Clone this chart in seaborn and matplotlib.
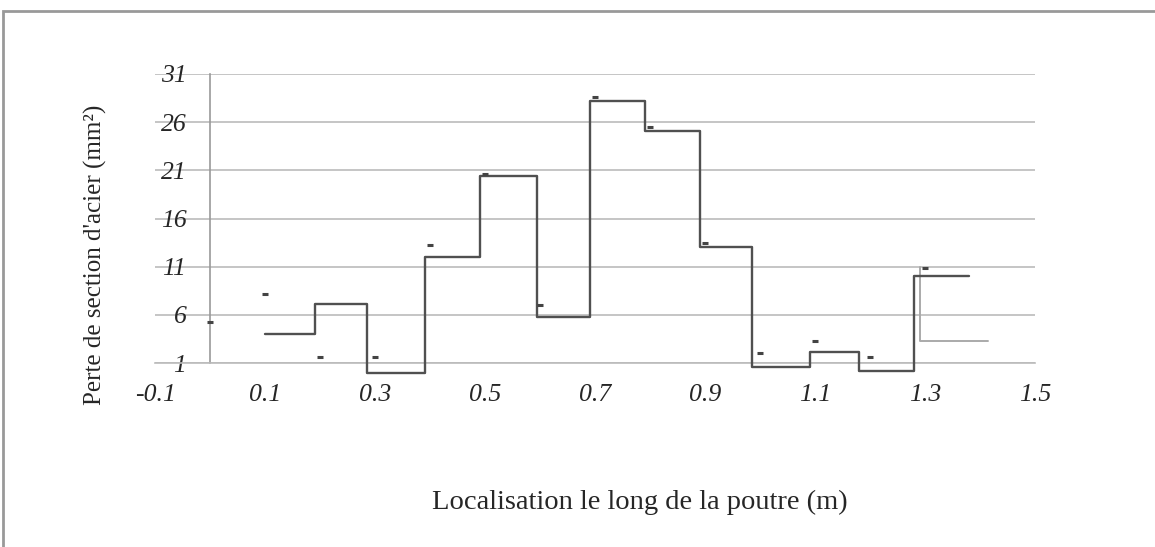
import matplotlib
matplotlib.use('Agg')
import matplotlib.pyplot as plt
import seaborn as sns
import pandas as pd

# step profile (left edges of each section, value held until next edge)
step_x = [0.10, 0.19, 0.285, 0.39, 0.49, 0.595, 0.69, 0.79, 0.89, 0.985, 1.09, 1.18, 1.28, 1.38]
step_y = [4.0, 7.1, 0.0, 12.0, 20.4, 5.8, 28.2, 25.1, 13.0, 0.6, 2.1, 0.2, 10.0, 10.0]

# light grey end segment
end_x = [1.29, 1.29, 1.415]
end_y = [11.0, 3.3, 3.3]

# measured points (small dashes)
pt_x = [0.0, 0.1, 0.2, 0.3, 0.4, 0.5, 0.6, 0.7, 0.8, 0.9, 1.0, 1.1, 1.2, 1.3]
pt_y = [5.3, 8.2, 1.6, 1.6, 13.3, 20.6, 7.0, 28.6, 25.5, 13.5, 2.0, 3.3, 1.6, 10.9]

x_ticks = [-0.1, 0.1, 0.3, 0.5, 0.7, 0.9, 1.1, 1.3, 1.5]
y_ticks = [1, 6, 11, 16, 21, 26, 31]

sns.set_style('white')
plt.rcParams['font.family'] = ['Liberation Serif', 'DejaVu Serif']

fig = plt.figure(figsize=(11.55, 5.47), dpi=100)
ax = fig.add_axes([155 / 1155, 184 / 547, 880 / 1155, 289 / 547])

steps = pd.DataFrame({'x': step_x, 'y': step_y})
sns.lineplot(data=steps, x='x', y='y', ax=ax, drawstyle='steps-post',
             color='#505050', lw=1.7, estimator=None, sort=False, clip_on=False, zorder=4)

end = pd.DataFrame({'x': end_x, 'y': end_y})
sns.lineplot(data=end, x='x', y='y', ax=ax, color='#aaaaaa', lw=1.4,
             estimator=None, sort=False, clip_on=False, zorder=3)

pts = pd.DataFrame({'x': pt_x, 'y': pt_y})
sns.lineplot(data=pts, x='x', y='y', ax=ax, ls='', marker='_', markersize=4.5,
             markeredgewidth=2.2, markeredgecolor='#444444', color='#444444',
             estimator=None, sort=False, zorder=5)

ax.set_xlim(-0.1, 1.5)
ax.set_ylim(1, 31)

# grid
ax.set_yticks(y_ticks)
ax.yaxis.grid(True, color='#bbbbbb', lw=1.2)
ax.xaxis.grid(False)

for s in ['top', 'right']:
    ax.spines[s].set_visible(False)
ax.spines['left'].set_position(('data', 0))
ax.spines['left'].set_color('#999999')
ax.spines['left'].set_linewidth(1.2)
ax.spines['bottom'].set_color('#bbbbbb')
ax.spines['bottom'].set_linewidth(1.2)

ax.set_xticks(x_ticks)
ax.set_xticklabels([str(t) for t in x_ticks], fontstyle='italic', fontsize=18.5)
ax.set_yticklabels([str(t) for t in y_ticks], fontstyle='italic', fontsize=18.5)
ax.tick_params(axis='both', which='major', length=0)
ax.tick_params(axis='y', pad=17)
ax.tick_params(axis='x', pad=15)
ax.set_xticks([1.5], minor=True)
ax.tick_params(axis='x', which='minor', length=16, direction='inout',
               color='#444444', width=1.5)

ax.set_xlabel("Localisation le long de la poutre (m)", fontsize=20.5)
ax.xaxis.set_label_coords(0.551, -0.44)
ax.set_ylabel("Perte de section d'acier (mm²)", fontsize=18)
ax.yaxis.set_label_coords(-0.054, 0.374)

# outer frame of the chart
frame = plt.Rectangle((3 / 1155, -0.5), 1.5, 1.5 - 11 / 547, transform=fig.transFigure,
                      fill=False, edgecolor='#999999', lw=2)
fig.add_artist(frame)

plt.savefig('out.png', dpi=100)
